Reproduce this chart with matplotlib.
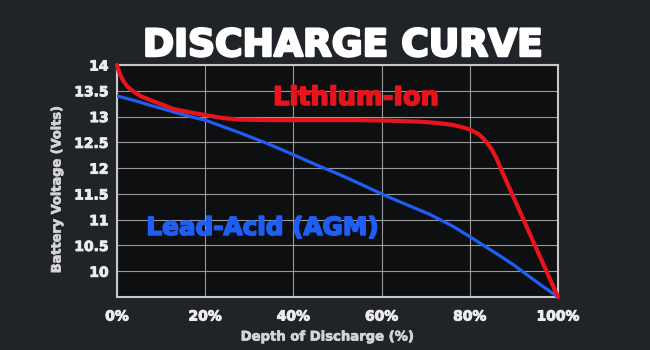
import numpy as np
import matplotlib
matplotlib.use("Agg")
import matplotlib.pyplot as plt
import matplotlib.patheffects as pe

# depth of discharge (%) and voltage
li_dod = [0, 0.5, 1, 1.5, 2.5, 4, 5.5, 7.5, 10, 12.7, 16.6, 20, 24, 28, 35,
          45, 55, 62, 68.7, 72, 76, 78, 80, 82, 83, 84, 85, 86, 87.5, 91.4,
          95.2, 100]
li_volt = [14.0, 13.86, 13.76, 13.68, 13.57, 13.47, 13.39, 13.32, 13.24,
           13.15, 13.08, 13.03, 12.97, 12.94, 12.93, 12.93, 12.93, 12.92, 12.9,
           12.88, 12.84, 12.8, 12.75, 12.66, 12.58, 12.48, 12.36, 12.2, 11.9,
           11.15, 10.42, 9.5]

pb_dod = [0, 4, 7.5, 12, 16.6, 20, 28, 34, 40, 45, 50.6, 55, 61, 66, 71, 76,
          80, 86.8, 89.8, 92.5, 96, 100]
pb_volt = [13.4, 13.31, 13.22, 13.11, 13.0, 12.93, 12.68, 12.48, 12.26, 12.07,
           11.87, 11.7, 11.46, 11.28, 11.1, 10.88, 10.67, 10.3, 10.13, 9.96,
           9.74, 9.5]

x_ticks = [0, 20, 40, 60, 80, 100]
x_labels = ['0%', '20%', '40%', '60%', '80%', '100%']
y_ticks = [10, 10.5, 11, 11.5, 12, 12.5, 13, 13.5, 14]
y_labels = ['10', '10.5', '11', '11.5', '12', '12.5', '13', '13.5', '14']

RED = '#e8141c'
BLUE = '#1f5ef5'


def heavy(color, w):
    # thicken the glyphs a bit, the reference uses a black-weight font
    return [pe.withStroke(linewidth=w, foreground=color)]


plt.rcParams['font.family'] = ['DejaVu Sans']
plt.rcParams['font.weight'] = 'bold'

fig = plt.figure(figsize=(6.5, 3.5), dpi=100, facecolor='#202328')
ax = fig.add_axes([117 / 650, 1 - 297 / 350, 441 / 650, 232 / 350])
ax.set_facecolor('#0e0f11')

ax.plot(pb_dod, pb_volt, color=BLUE, lw=2.3, solid_capstyle='round',
        solid_joinstyle='round', zorder=3)
ax.plot(li_dod, li_volt, color=RED, lw=3.0, solid_capstyle='round',
        solid_joinstyle='round', zorder=4, clip_on=False)

ax.set_xlim(0, 100)
ax.set_ylim(9.5, 14)
ax.set_xticks(x_ticks)
ax.set_xticklabels(x_labels)
ax.set_yticks(y_ticks)
ax.set_yticklabels(y_labels)
ax.tick_params(axis='both', length=0, colors='#ececec', labelsize=10)
ax.tick_params(axis='x', pad=9)
ax.tick_params(axis='y', pad=6)
for lab in ax.get_xticklabels() + ax.get_yticklabels():
    lab.set_fontweight('bold')
    lab.set_path_effects(heavy('#ececec', 0.7))

ax.grid(True, color='#9a9a9a', lw=0.8)
ax.set_axisbelow(True)
for sp in ax.spines.values():
    sp.set_color('#c8c8c8')
    sp.set_linewidth(1.5)

ax.text(54.2, 13.36, 'Lithium-Ion', color=RED, fontsize=18.5,
        fontweight='bold', ha='center', va='center', zorder=5,
        path_effects=heavy(RED, 1.2))
ax.text(33.1, 10.84, 'Lead-Acid (AGM)', color=BLUE, fontsize=17.8,
        fontweight='bold', ha='center', va='center', zorder=5,
        path_effects=heavy(BLUE, 1.2))

fig.text(343 / 650, 1 - 46 / 350, 'DISCHARGE CURVE', color='white',
         fontsize=27, fontweight='bold', ha='center', va='center',
         path_effects=heavy('white', 1.8))
fig.text(328 / 650, 1 - 337 / 350, 'Depth of Discharge (%)', color='#d4d4d4',
         fontsize=9.5, fontweight='bold', ha='center', va='center',
         path_effects=heavy('#d4d4d4', 0.5))
fig.text(57 / 650, 1 - 190 / 350, 'Battery Voltage (Volts)', color='#d4d4d4',
         fontsize=9.3, fontweight='bold', ha='center', va='center',
         rotation=90, path_effects=heavy('#d4d4d4', 0.5))

fig.savefig('out.png', dpi=100, facecolor=fig.get_facecolor())
